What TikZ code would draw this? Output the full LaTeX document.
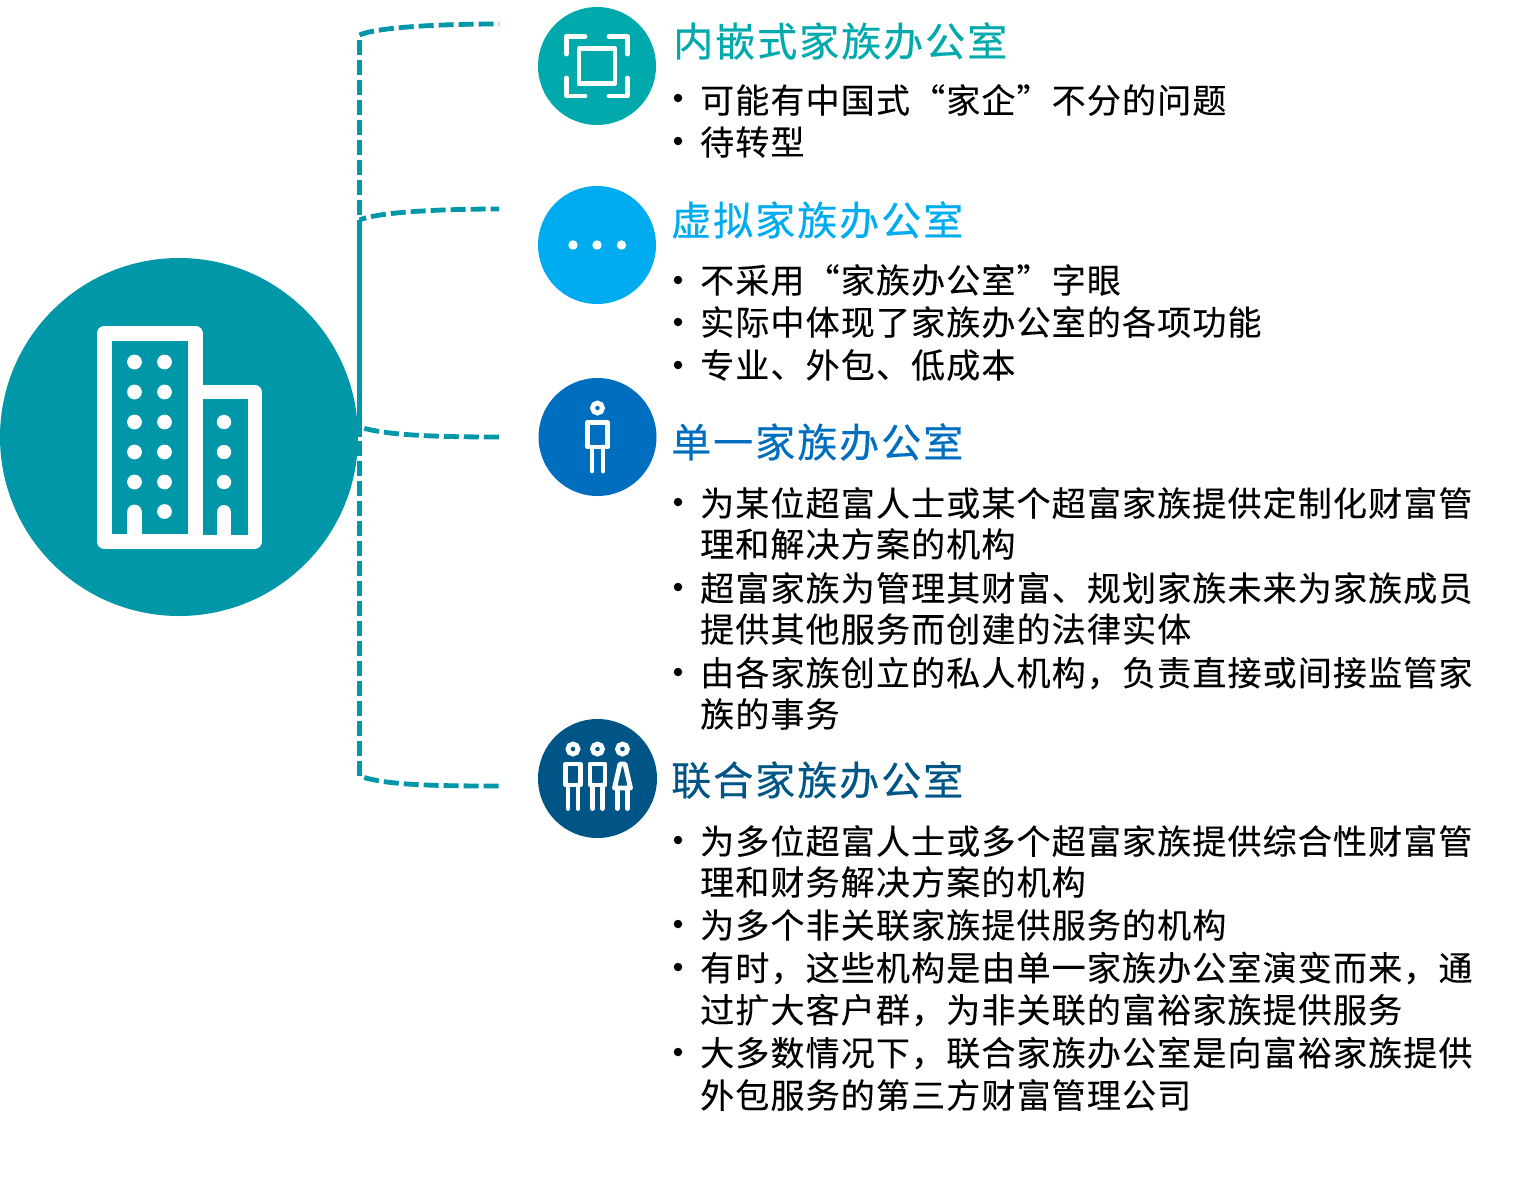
\documentclass[tikz,border=0pt]{standalone}
\usepackage{fontspec}
\newfontfamily\cjkbody[LetterSpace=3.4,FakeBold=0.15]{Noto Sans CJK SC}
\newfontfamily\cjktitle[LetterSpace=5,FakeBold=0.45]{Noto Sans CJK SC}
\definecolor{teal1}{HTML}{0097A9}
\definecolor{green1}{HTML}{00A9AC}
\definecolor{sky1}{HTML}{00ACF0}
\definecolor{blue1}{HTML}{006EBE}
\definecolor{navy1}{HTML}{005587}
\tikzset{
  x=1pt,y=-1pt,
  bodyline/.style={anchor=west,inner sep=0pt,text=black,font={\cjkbody\fontsize{34}{36}\selectfont}},
  bullet/.style={circle,fill=black,inner sep=0pt,minimum size=8pt},
  titletext/.style={anchor=west,inner sep=0pt,font={\cjktitle\fontsize{40}{44}\selectfont}},
  badge/.style={circle,inner sep=0pt,minimum size=118pt},
  conn/.style={teal1,line width=4.8pt},
  dashconn/.style={conn,dash pattern=on 15pt off 5pt},
  icon/.style={white,line width=4.8pt,line join=round,line cap=round},
  iconfat/.style={white,line width=4.8pt,line join=round,line cap=round},
}
\begin{document}
\begin{tikzpicture}
\useasboundingbox (0,0) rectangle (1518,1195);
\fill[white] (0,0) rectangle (1518,1195);
% main circle
\node[badge,fill=teal1,minimum size=358pt] (hub) at (179,437) {};
% connectors
\coordinate (t1) at (499,24);
\coordinate (t2) at (499,209);
\coordinate (t3) at (500,437);
\coordinate (t4) at (500,786);
\coordinate (c1) at (359.5,35);
\coordinate (c2) at (359.5,220);
\coordinate (c3) at (359.5,437);
\coordinate (c3b) at (359.5,427);
\coordinate (c3d) at (359.5,441);
\coordinate (c4) at (359.5,776);
\draw[dashconn] (c1) .. controls (375,28) and (430,24) .. (t1);
\draw[dashconn,dash phase=15] (c1) -- (c2);
\draw[dashconn,dash phase=8] (c2) .. controls (375,213) and (430,209) .. (t2);
\draw[conn] (c2) -- (c3);
\draw[dashconn,dash phase=15] (c3b) .. controls (385,435) and (430,437) .. (t3);
\draw[dashconn] (c3d) -- (c4);
\draw[dashconn,dash phase=15] (c4) .. controls (385,785) and (430,786) .. (t4);
% building icon
\draw[white,line width=15pt,line join=round] (104.5,333) rectangle (195,541.5);
\draw[white,line width=14pt,line join=round] (195,392) -- (254.5,392) -- (254.5,541.5) -- (195,541.5);
\foreach \y in {362,392,422,452,482}{
 \fill[white] (134.5,\y) circle (7.4);
 \fill[white] (164.5,\y) circle (7.4);
}
\fill[white] (164.5,511.5) circle (7.4);
\foreach \y in {422,452,482} \fill[white] (224,\y) circle (7.2);
\fill[white] (134.5,512) circle (7.4);
\fill[white] (127.1,512) rectangle (141.9,540);
\fill[white] (224,512) circle (7);
\fill[white] (217,512) rectangle (231,540);
% badge 1
\node[badge,fill=green1] (b1) at (597,66) {};
\draw[iconfat] (566.5,54) -- (566.5,36.5) -- (585,36.5);
\draw[iconfat] (609,36.5) -- (627.5,36.5) -- (627.5,54);
\draw[iconfat] (566.5,78) -- (566.5,96) -- (585,96);
\draw[iconfat] (609,96) -- (627.5,96) -- (627.5,78);
\draw[iconfat] (579,48.5) rectangle (615,83.5);
% badge 2
\node[badge,fill=sky1] (b2) at (597,245) {};
\foreach \x in {573,597,621.5} \fill[white] (\x,245) circle (4.7);
% badge 3
\node[badge,fill=blue1] (b3) at (597.5,437) {};
\draw[white,line width=4.8pt] (597.5,408) circle (5);
\draw[icon,line cap=butt] (587.5,422.5) rectangle (607.5,447);
\draw[icon] (592,447) -- (592,471);
\draw[icon] (603,447) -- (603,471);
% badge 4
\node[badge,fill=navy1,minimum size=119pt] (b4) at (597.5,778.5) {};
\foreach \x in {573,597.5}{
 \draw[white,line width=4.8pt] (\x,749) circle (5);
 \draw[icon,line cap=butt] (\x-7.5,764) rectangle (\x+7.5,785);
 \draw[icon] (\x-5,785) -- (\x-5,808.5);
 \draw[icon] (\x+5,785) -- (\x+5,808.5);
}
\draw[white,line width=4.8pt] (622.5,749) circle (5);
\draw[icon] (620,764) -- (625,764) -- (630.5,788) -- (614.5,788) -- cycle;
\draw[icon] (617.5,788) -- (617.5,808.5);
\draw[icon] (627.5,788) -- (627.5,808.5);
% titles
\node[titletext,text=green1] (h1) at (673,41) {内嵌式家族办公室};
\node[titletext,text=sky1] (h2) at (671,220) {虚拟家族办公室};
\node[titletext,text=blue1] (h3) at (671,442) {单一家族办公室};
\node[titletext,text=navy1] (h4) at (671,780) {联合家族办公室};
% body
\foreach \n/\y in {a/98,b/141,c/280,d/322,e/365,f/502,g/587,h/672,i/840,j/924,k/967,l/1052}
  \node[bullet,minimum size=8.5pt] (p\n) at (678,\y) {};
\node[bodyline] (l1) at (700,100) {可能有中国式“家企”不分的问题};
\node[bodyline] (l2) at (700,142) {待转型};
\node[bodyline] (l3) at (700,280) {不采用“家族办公室”字眼};
\node[bodyline] (l4) at (700,322) {实际中体现了家族办公室的各项功能};
\node[bodyline] (l5) at (700,365) {专业、外包、低成本};
\node[bodyline] (l6) at (700,503) {为某位超富人士或某个超富家族提供定制化财富管};
\node[bodyline] (l7) at (700,544) {理和解决方案的机构};
\node[bodyline] (l8) at (700,588) {超富家族为管理其财富、规划家族未来为家族成员};
\node[bodyline] (l9) at (700,629) {提供其他服务而创建的法律实体};
\node[bodyline] (l10) at (700,673) {由各家族创立的私人机构，负责直接或间接监管家};
\node[bodyline] (l11) at (700,714) {族的事务};
\node[bodyline] (l12) at (700,841) {为多位超富人士或多个超富家族提供综合性财富管};
\node[bodyline] (l13) at (700,882) {理和财务解决方案的机构};
\node[bodyline] (l14) at (700,925) {为多个非关联家族提供服务的机构};
\node[bodyline] (l15) at (700,968) {有时，这些机构是由单一家族办公室演变而来，通};
\node[bodyline] (l16) at (700,1010) {过扩大客户群，为非关联的富裕家族提供服务};
\node[bodyline] (l17) at (700,1053) {大多数情况下，联合家族办公室是向富裕家族提供};
\node[bodyline] (l18) at (700,1095) {外包服务的第三方财富管理公司};
\end{tikzpicture}
\end{document}
